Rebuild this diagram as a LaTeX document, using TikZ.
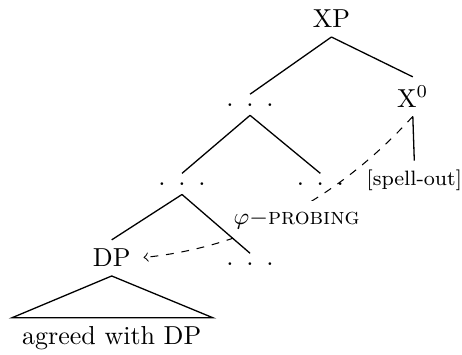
\documentclass[tikz,border=0pt]{standalone}
\usepackage{amsmath}
\usepackage{tikz}
\newcommand{\trdots}{.\hspace{4.9pt}.\hspace{4.9pt}.}

\begin{document}
\begin{tikzpicture}[tree/.style={line width=0.5pt}]

			\useasboundingbox (0,0) rectangle (6.245,4.786);

			\node (XP) at (4.48,4.53) {XP};
			\node (M) at (3.38,3.37) {\trdots};
			\node (X0) at (5.58,3.48) {X$^0$};
			\node (L) at (2.46,2.30) {\trdots};
			\node (R) at (4.33,2.30) {\trdots};
			\node (SO) at (5.60,2.35) {\footnotesize [spell-out]};
			\node (DP) at (1.51,1.30) {DP};
			\node (B) at (3.38,1.22) {\trdots};
			\node (AG) at (1.51,0.21) {agreed with DP};
			\coordinate (TL) at (0.16,0.49);
			\coordinate (TR) at (2.88,0.49);

			\draw [->, dashed, shorten >=1.5pt] (X0.south) .. controls +(-0.92,-1.01) and +(1.58,0.16) .. (DP.east);
			\node [fill=white, inner xsep=2pt, inner ysep=3.5pt] (PR) at (4.01,1.82) {\small $\varphi{-}$\textsc{probing}};

			\draw [tree] (XP.south)--(M.north);
			\draw [tree] (XP.south)--(X0.north);
			\draw [tree] (M.south)--(L.north);
			\draw [tree] (M.south)--(R.north);
			\draw [tree] (X0.south)--(SO.north);
			\draw [tree] (L.south)--(DP.north);
			\draw [tree] (L.south)--(B.north);
			\draw [tree] (DP.south)--(TL)--(TR)--cycle;

\end{tikzpicture}
\end{document}
